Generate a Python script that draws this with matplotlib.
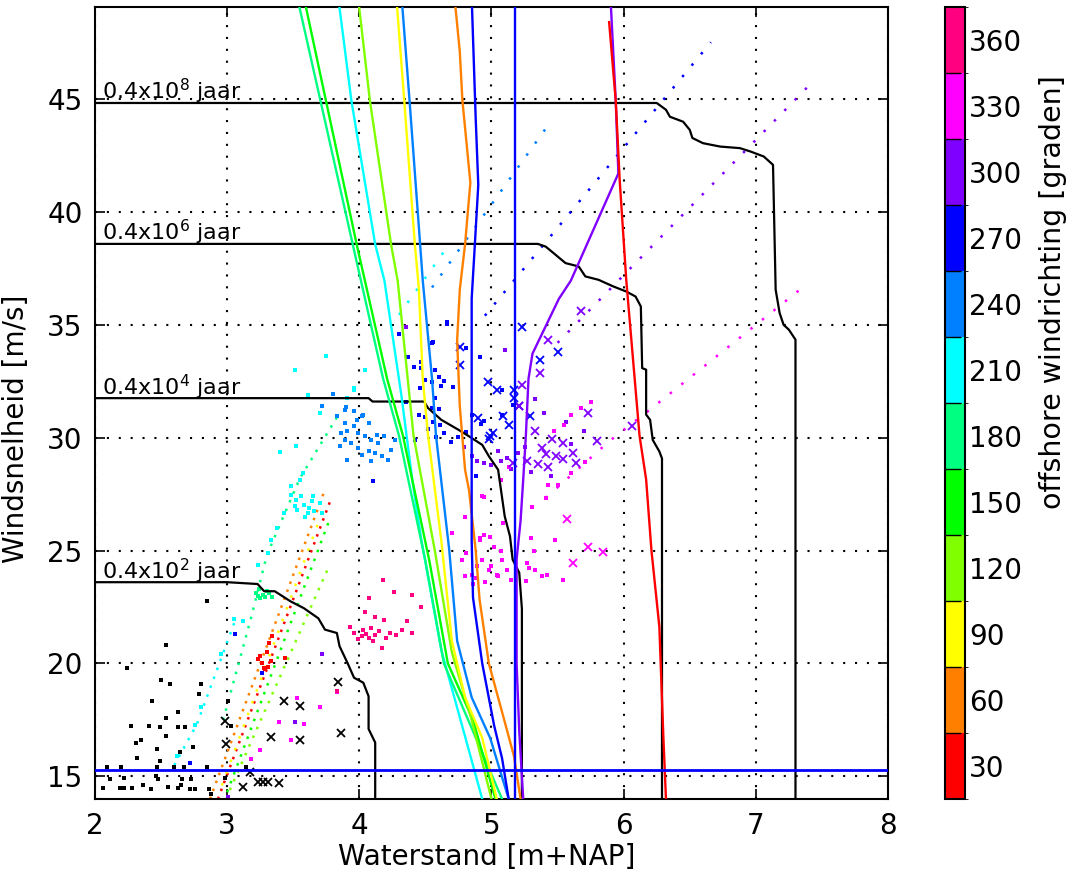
import matplotlib
matplotlib.use("Agg")
import matplotlib as mpl
import matplotlib.pyplot as plt
from matplotlib.colors import ListedColormap, BoundaryNorm

plt.rcParams['font.family'] = ['DejaVu Sans']

# windrichtingsklassen [graden] en hun kleur (hsv, 12 stappen)
richtingen = [30, 60, 90, 120, 150, 180, 210, 240, 270, 300, 330, 360]
kleuren = ['#ff0000', '#ff8000', '#ffff00', '#80ff00', '#00ff00', '#00ff80',
           '#00ffff', '#0080ff', '#0000ff', '#8000ff', '#ff00ff', '#ff0080']
kleur = dict(zip(richtingen, kleuren))

# contouren van gelijke herhalingstijd (waterstand, windsnelheid)
c2_x = [2.0, 3.0, 3.23, 3.28, 3.36, 3.48, 3.58, 3.69, 3.74, 3.83, 3.85, 3.91, 3.96, 4.03, 4.05, 4.07, 4.07, 4.12, 4.12]
c2_y = [23.6, 23.6, 23.52, 23.2, 23.2, 22.75, 22.45, 22.0, 21.5, 21.35, 20.77, 20.03, 19.37, 19.15, 18.85, 18.55, 17.1, 16.5, 14.0]
c4_x = [2.0, 4.07, 4.10, 4.49, 4.52, 4.62, 4.75, 4.83, 4.93, 4.98, 5.05, 5.10, 5.14, 5.16, 5.21, 5.23, 5.23]
c4_y = [31.75, 31.75, 31.6, 31.6, 31.31, 30.79, 30.35, 30.06, 29.68, 29.18, 28.58, 26.52, 25.63, 24.6, 24.02, 22.42, 14.0]
c6_x = [2.0, 5.35, 5.41, 5.47, 5.56, 5.66, 5.71, 5.81, 5.92, 6.02, 6.09, 6.13, 6.14, 6.17, 6.17, 6.20, 6.22, 6.27, 6.29, 6.29]
c6_y = [38.58, 38.58, 38.46, 38.17, 37.73, 37.58, 37.14, 36.99, 36.7, 36.47, 36.25, 35.81, 33.08, 33.01, 31.02, 30.79, 29.9, 29.39, 29.08, 14.0]
c8_x = [2.0, 6.25, 6.32, 6.35, 6.45, 6.50, 6.52, 6.60, 6.73, 6.88, 6.96, 7.06, 7.13, 7.15, 7.18, 7.21, 7.25, 7.30, 7.30]
c8_y = [44.82, 44.82, 44.52, 44.21, 43.99, 43.63, 43.27, 43.04, 42.89, 42.82, 42.67, 42.45, 42.08, 36.55, 35.52, 35.0, 34.78, 34.34, 14.0]
contour_labels = ['0.4x10$^2$ jaar', '0.4x10$^4$ jaar', '0.4x10$^6$ jaar', '0.4x10$^8$ jaar']

# waterstand bij toenemende windsnelheid, per windrichting
lijn030_x = [5.89, 5.94, 5.97, 6.02, 6.12, 6.17, 6.21, 6.27, 6.30, 6.32]
lijn030_y = [48.4, 44.92, 41.39, 36.95, 30.09, 28.15, 25.02, 21.63, 16.8, 14.0]
lijn060_x = [4.72, 4.76, 4.78, 4.84, 4.80, 4.76, 4.74, 4.76, 4.80, 4.83, 4.88, 4.91, 4.98, 5.08, 5.17, 5.22]
lijn060_y = [49.5, 47.1, 44.92, 41.3, 38.56, 36.55, 34.32, 31.4, 28.58, 27.67, 25.03, 22.82, 20.0, 17.85, 15.9, 14.0]
lijn090_x = [4.28, 4.34, 4.42, 4.45, 4.48, 4.52, 4.62, 4.70, 4.80, 4.93, 5.04]
lijn090_y = [49.5, 44.92, 38.56, 36.63, 32.61, 30.09, 25.45, 21.0, 18.5, 16.7, 14.0]
lijn120_x = [3.99, 4.08, 4.24, 4.29, 4.41, 4.57, 4.70, 4.85, 5.00]
lijn120_y = [49.5, 44.92, 38.56, 36.95, 30.09, 25.04, 20.5, 17.5, 14.0]
lijn150_x = [3.58, 3.98, 4.21, 4.33, 4.53, 4.67, 4.86, 5.03]
lijn150_y = [49.5, 38.56, 32.61, 30.09, 24.54, 20.0, 17.5, 14.0]
lijn180_x = [3.53, 3.95, 4.18, 4.30, 4.50, 4.64, 4.86, 5.08]
lijn180_y = [49.5, 38.56, 32.61, 30.09, 24.54, 20.0, 17.0, 14.0]
lijn210_x = [3.84, 3.94, 4.12, 4.19, 4.32, 4.40, 4.47, 4.62, 4.93]
lijn210_y = [49.5, 44.92, 38.56, 36.95, 31.8, 28.15, 25.45, 20.6, 14.0]
lijn240_x = [4.32, 4.38, 4.46, 4.48, 4.55, 4.58, 4.68, 4.74, 4.85, 4.99, 5.13]
lijn240_y = [49.5, 44.92, 38.56, 36.95, 32.61, 30.09, 25.04, 21.0, 18.5, 16.7, 14.0]
lijn270_x = [4.85, 4.88, 4.90, 4.87, 4.85, 4.85, 4.86, 4.93, 5.02, 5.08, 5.13]
lijn270_y = [49.5, 44.2, 41.2, 38.15, 36.15, 25.45, 22.92, 20.0, 17.25, 15.8, 14.0]
lijn300_x = [5.90, 5.94, 5.96, 5.60, 5.51, 5.31, 5.28, 5.26, 5.24, 5.22, 5.19, 5.19, 5.21, 5.24]
lijn300_y = [49.5, 44.92, 41.7, 36.95, 36.15, 33.72, 32.61, 30.09, 28.15, 26.32, 24.62, 20.0, 17.0, 14.0]

# referentiewaarden
ref_waterstand = 5.18
ref_wind = 15.3

# gesimuleerde stormen die als puntreeksen op een rechte liggen
reeks030 = [(2.93, 14.0), (3.78, 27.2)]
reeks060 = [(2.87, 14.0), (3.74, 27.7)]
reeks090 = [(2.96, 14.6), (3.70, 26.4)]
reeks120 = [(3.02, 14.4), (3.77, 24.3)]
reeks150 = [(3.00, 14.3), (3.77, 26.3)]
reeks180 = [(2.97, 17.5), (3.18, 22.0), (3.30, 24.8), (3.55, 28.2), (3.83, 30.9)]
reeks210a = [(2.60, 15.5), (2.77, 17.3), (3.06, 21.9)]
reeks210b = [(4.30, 35.44), (4.68, 38.56)]
reeks240 = [(4.55, 36.65), (5.45, 44.01)]
reeks270 = [(4.95, 35.4), (6.66, 47.51)]
reeks300 = [(5.50, 34.2), (7.39, 45.52)]
reeks330 = [(5.41, 27.33), (5.89, 29.84), (6.19, 31.2), (7.39, 36.82)]

# losse stormpunten (waterstand, windsnelheid)
punten_zwart = [(2.85, 22.78), (2.54, 20.8), (2.24, 19.8), (2.50, 19.27), (2.57, 19.08), (2.80, 19.08),
                (2.43, 18.35), (2.79, 18.64), (2.63, 17.84), (2.54, 17.6), (2.27, 17.22), (2.41, 17.22),
                (2.49, 17.2), (2.63, 17.2), (2.68, 17.2), (2.54, 16.8), (2.31, 16.5), (2.35, 16.6),
                (2.47, 16.2), (2.64, 16.1), (2.32, 15.8), (2.49, 15.7), (2.74, 16.3), (2.09, 15.4),
                (2.20, 15.4), (2.47, 15.4), (2.60, 15.42), (2.67, 15.42), (2.85, 15.4), (3.14, 15.4),
                (2.11, 14.9), (2.22, 14.93), (2.46, 15.0), (2.48, 14.9), (2.66, 14.9), (2.73, 14.9),
                (2.98, 14.95), (2.06, 14.47), (2.19, 14.5), (2.22, 14.5), (2.28, 14.5), (2.36, 14.6),
                (2.42, 14.45), (2.55, 14.55), (2.63, 14.5), (2.65, 14.6), (2.72, 14.45), (2.76, 14.45),
                (2.86, 14.45), (2.88, 14.2), (3.01, 18.35), (3.03, 17.25)]
kruis_zwart = [(2.98, 17.45), (2.99, 16.45), (3.43, 18.35), (3.55, 18.14), (3.33, 16.74), (3.55, 16.6),
               (3.84, 19.2), (3.86, 16.93), (3.17, 15.2), (3.23, 14.77), (3.27, 14.77), (3.31, 14.77),
               (3.39, 14.69), (3.12, 14.55)]
punten_030 = [(3.23, 20.2), (3.26, 20.0), (3.28, 19.8), (3.31, 19.85), (3.33, 20.1), (3.25, 20.35),
              (3.30, 20.5), (3.32, 20.9), (3.34, 21.2), (3.29, 19.75), (3.44, 20.25)]
punten_180 = [(3.22, 23.1), (3.24, 23.32), (3.27, 23.03), (3.29, 22.95), (3.32, 23.1), (3.34, 22.95),
              (3.25, 22.88), (3.23, 23.0), (3.30, 23.2)]
punten_210 = [(3.48, 27.47), (3.52, 27.25), (3.56, 27.4), (3.58, 27.03), (3.62, 26.89), (3.66, 26.74),
              (3.53, 26.81), (3.48, 27.84), (3.55, 28.13), (3.70, 27.11), (3.72, 26.67), (3.61, 26.67),
              (3.51, 26.96), (3.57, 28.42), (3.65, 27.4), (3.43, 26.67), (3.59, 26.5), (3.64, 27.2),
              (3.61, 31.9), (3.96, 32.12), (3.52, 29.65), (3.23, 24.38), (3.12, 21.9), (3.05, 21.97),
              (2.95, 20.42), (2.80, 18.08), (2.76, 17.27), (3.33, 25.48), (3.38, 25.99), (3.31, 24.9),
              (3.51, 32.99), (3.91, 31.75), (3.96, 32.19), (4.04, 32.99), (3.40, 29.35), (2.62, 15.9),
              (3.70, 31.1), (3.75, 33.6)]
punten_240 = [(3.90, 31.38), (3.96, 31.16), (4.02, 30.94), (3.89, 30.65), (3.96, 30.5), (3.91, 30.28),
              (3.99, 30.21), (4.04, 30.06), (4.09, 29.91), (4.14, 29.76), (3.94, 29.76), (3.99, 29.54),
              (4.07, 29.39), (4.12, 29.32), (4.17, 29.17), (4.22, 29.03), (4.02, 29.25), (3.89, 29.91),
              (3.85, 29.61), (4.24, 29.47), (4.19, 30.06), (3.91, 29.03), (4.09, 28.95), (3.98, 30.79),
              (4.07, 30.65), (4.13, 30.13), (4.27, 29.91), (3.83, 30.94), (3.86, 30.21), (3.89, 31.23),
              (4.03, 31.01), (3.72, 31.4), (3.80, 31.95)]
punten_270 = [(4.66, 35.11), (4.55, 34.17), (4.37, 33.58), (4.41, 33.14), (4.47, 33.07), (4.57, 32.99),
              (4.60, 32.7), (4.64, 32.5), (4.55, 32.45), (4.62, 32.3), (4.50, 32.55), (4.46, 32.2),
              (4.55, 31.3), (4.60, 31.25), (4.45, 31.0), (4.50, 30.9), (4.56, 30.7), (4.52, 30.4),
              (4.61, 30.55), (4.58, 30.05), (4.64, 30.2), (4.69, 29.8), (4.75, 30.05), (4.81, 30.25),
              (4.85, 31.02), (4.92, 30.6), (4.94, 30.73), (5.08, 31.02), (5.16, 31.46), (5.08, 32.12),
              (4.91, 33.58), (4.81, 33.95), (4.66, 35.04), (4.47, 33.36), (4.56, 34.24), (4.71, 32.26),
              (4.57, 31.75), (4.42, 29.9), (4.35, 31.6), (4.30, 34.6), (4.10, 28.1), (4.88, 28.3),
              (3.26, 19.6), (2.72, 15.6), (3.06, 21.3)]
kruis_270 = [(5.23, 34.9), (4.76, 34.02), (4.76, 33.2), (4.97, 32.48), (5.04, 32.12), (5.17, 32.12),
             (4.90, 30.88), (4.99, 30.07), (5.01, 30.2), (4.98, 29.95), (5.09, 30.95), (5.13, 30.58),
             (5.21, 31.39), (5.17, 31.75), (5.50, 33.8), (5.37, 33.46), (5.29, 30.95)]
punten_300 = [(4.79, 29.6), (4.85, 29.19), (4.89, 28.97), (4.94, 28.9), (5.00, 28.8), (5.07, 28.95),
              (5.12, 29.1), (5.20, 29.3), (5.25, 29.6), (5.05, 29.4), (5.15, 28.6), (5.30, 28.5),
              (5.45, 28.3), (5.60, 29.7), (5.70, 30.3), (5.56, 30.7), (5.40, 31.1), (5.33, 31.7),
              (5.10, 33.9), (4.35, 34.9), (3.72, 20.4), (3.51, 17.4), (3.01, 14.1)]
kruis_300 = [(5.68, 35.63), (5.43, 34.31), (5.37, 32.85), (5.23, 32.34), (5.21, 31.42), (5.73, 31.1),
             (6.06, 30.51), (5.80, 29.86), (5.33, 30.29), (5.46, 29.96), (5.54, 29.78), (5.38, 29.56),
             (5.49, 29.19), (5.54, 29.05), (5.43, 28.68), (5.35, 28.83), (5.64, 28.86), (5.27, 28.97),
             (5.16, 28.9), (5.41, 29.27), (5.62, 29.3)]
punten_330 = [(4.78, 24.6), (4.81, 24.9), (4.85, 23.93), (4.89, 24.3), (4.93, 24.6), (4.91, 25.48),
              (4.94, 25.7), (4.99, 25.62), (5.02, 25.18), (5.07, 24.97), (5.08, 24.6), (5.00, 24.3),
              (5.04, 23.93), (5.12, 24.15), (4.80, 23.86), (4.88, 23.79), (4.98, 24.15), (5.05, 23.86),
              (4.94, 27.38), (5.07, 28.12), (5.09, 26.21), (5.31, 26.95), (5.30, 25.55), (5.41, 27.33),
              (5.48, 25.48), (5.54, 23.7), (5.38, 23.86), (5.33, 24.15), (5.28, 24.23), (5.27, 24.45),
              (5.42, 23.93), (5.26, 23.64), (4.80, 26.5), (5.32, 24.97), (5.13, 28.7), (5.43, 27.9),
              (5.50, 27.9), (5.60, 28.42), (5.71, 28.93), (5.75, 31.6), (5.68, 31.31), (5.60, 31.02),
              (5.55, 30.57), (5.47, 30.28), (4.93, 27.4), (4.70, 25.77), (4.91, 25.55), (3.53, 18.46),
              (3.83, 18.74), (3.58, 17.32), (3.25, 16.18), (3.48, 16.6), (3.70, 18.06), (3.39, 17.4),
              (3.18, 15.75), (4.86, 23.5), (4.95, 23.6), (5.15, 23.7)]
kruis_330 = [(5.57, 26.42), (5.73, 25.15), (5.84, 24.95), (5.62, 24.44)]
punten_360 = [(4.18, 23.68), (4.07, 22.88), (4.26, 23.17), (4.40, 23.03), (4.12, 22.07), (4.19, 21.93),
              (4.36, 21.86), (4.47, 22.51), (4.04, 22.29), (4.40, 21.35), (4.09, 21.57), (3.96, 21.35),
              (4.02, 21.2), (4.07, 21.13), (4.12, 21.27), (4.15, 21.42), (4.23, 21.35), (4.28, 21.27),
              (4.17, 20.69), (4.03, 21.49), (3.99, 21.1), (4.05, 21.3), (4.10, 21.0), (4.20, 21.15),
              (4.32, 21.5), (3.93, 21.6), (3.83, 18.79)]

fig = plt.figure(figsize=(10.76, 8.82), dpi=100)
ax = fig.add_axes([95 / 1076, 83 / 882, 793 / 1076, 792 / 882])

# puntreeksen als gestippelde lijnen
for reeks, r, open_ in [(reeks030, 30, 2.4), (reeks060, 60, 2.4), (reeks090, 90, 4.0),
                        (reeks120, 120, 2.8), (reeks150, 150, 2.8), (reeks180, 180, 2.8),
                        (reeks210a, 210, 2.8), (reeks210b, 210, 4.9), (reeks240, 240, 4.9),
                        (reeks270, 270, 4.9), (reeks300, 300, 4.9), (reeks330, 330, 4.9)]:
    xs, ys = zip(*reeks)
    ax.plot(xs, ys, color=kleur[r], lw=1.8, dashes=(1.0, open_), zorder=2)

for pts, c in [(punten_zwart, 'k'), (punten_030, kleur[30]), (punten_180, kleur[180]),
               (punten_210, kleur[210]), (punten_240, kleur[240]), (punten_270, kleur[270]),
               (punten_300, kleur[300]), (punten_330, kleur[330]), (punten_360, kleur[360])]:
    xs, ys = zip(*pts)
    ax.plot(xs, ys, ls='none', marker='s', ms=2.2, mew=0, color=c, zorder=2)

for pts, c in [(kruis_zwart, 'k'), (kruis_270, kleur[270]), (kruis_300, kleur[300]),
               (kruis_330, kleur[330])]:
    xs, ys = zip(*pts)
    ax.plot(xs, ys, ls='none', marker='x', ms=5.5, mew=1.3, color=c, zorder=3)

# herhalingstijd-contouren met labels
for cx, cy, lab in zip([c2_x, c4_x, c6_x, c8_x], [c2_y, c4_y, c6_y, c8_y], contour_labels):
    ax.plot(cx, cy, color='k', lw=1.6, zorder=4)
    ax.text(2.05, cy[0] + 0.15, lab, fontsize=16, va='baseline', ha='left', zorder=6)

for lx, ly, r in [(lijn210_x, lijn210_y, 210), (lijn180_x, lijn180_y, 180), (lijn150_x, lijn150_y, 150),
                  (lijn120_x, lijn120_y, 120), (lijn090_x, lijn090_y, 90), (lijn240_x, lijn240_y, 240),
                  (lijn060_x, lijn060_y, 60), (lijn270_x, lijn270_y, 270), (lijn300_x, lijn300_y, 300),
                  (lijn030_x, lijn030_y, 30)]:
    ax.plot(lx, ly, color=kleur[r], lw=1.7, zorder=5)

ax.axvline(ref_waterstand, color=kleur[270], lw=1.7, zorder=5)
ax.axhline(ref_wind, color=kleur[270], lw=2.0, zorder=5)

ax.set_xlim(2, 8)
ax.set_ylim(14, 49.07)
ax.set_xticks([2, 3, 4, 5, 6, 7, 8])
ax.set_yticks([15, 20, 25, 30, 35, 40, 45])
ax.grid(True, color='k', ls=(0, (1, 4.7)), lw=1.5)
ax.set_axisbelow(True)
ax.tick_params(direction='in', top=True, right=True, length=7, width=1.2,
               labelsize=20, pad=9)
for s in ax.spines.values():
    s.set_linewidth(1.5)
ax.set_xlabel('Waterstand [m+NAP]', fontsize=20)
ax.set_ylabel('Windsnelheid [m/s]', fontsize=20)
ax.xaxis.set_label_coords(0.494, -0.056)
ax.yaxis.set_label_coords(-0.082, 0.468)

# kleurenbalk met windrichting
cax = fig.add_axes([945 / 1076, 83 / 882, 20 / 1076, 792 / 882])
grenzen = [r - 15 for r in richtingen] + [richtingen[-1] + 15]
cmap = ListedColormap(kleuren)
norm = BoundaryNorm(grenzen, cmap.N)
cb = mpl.colorbar.ColorbarBase(cax, cmap=cmap, norm=norm, ticks=richtingen)
cb.ax.tick_params(length=0, labelsize=20, pad=3)
cb.outline.set_linewidth(1.5)
cax.hlines(grenzen[1:-1], 0, 0.8, colors='k', lw=1.0)
cb.set_label('offshore windrichting [graden]', fontsize=20.5)
cax.yaxis.set_label_coords(4.7, 0.64)

fig.savefig('out.png', dpi=100)
